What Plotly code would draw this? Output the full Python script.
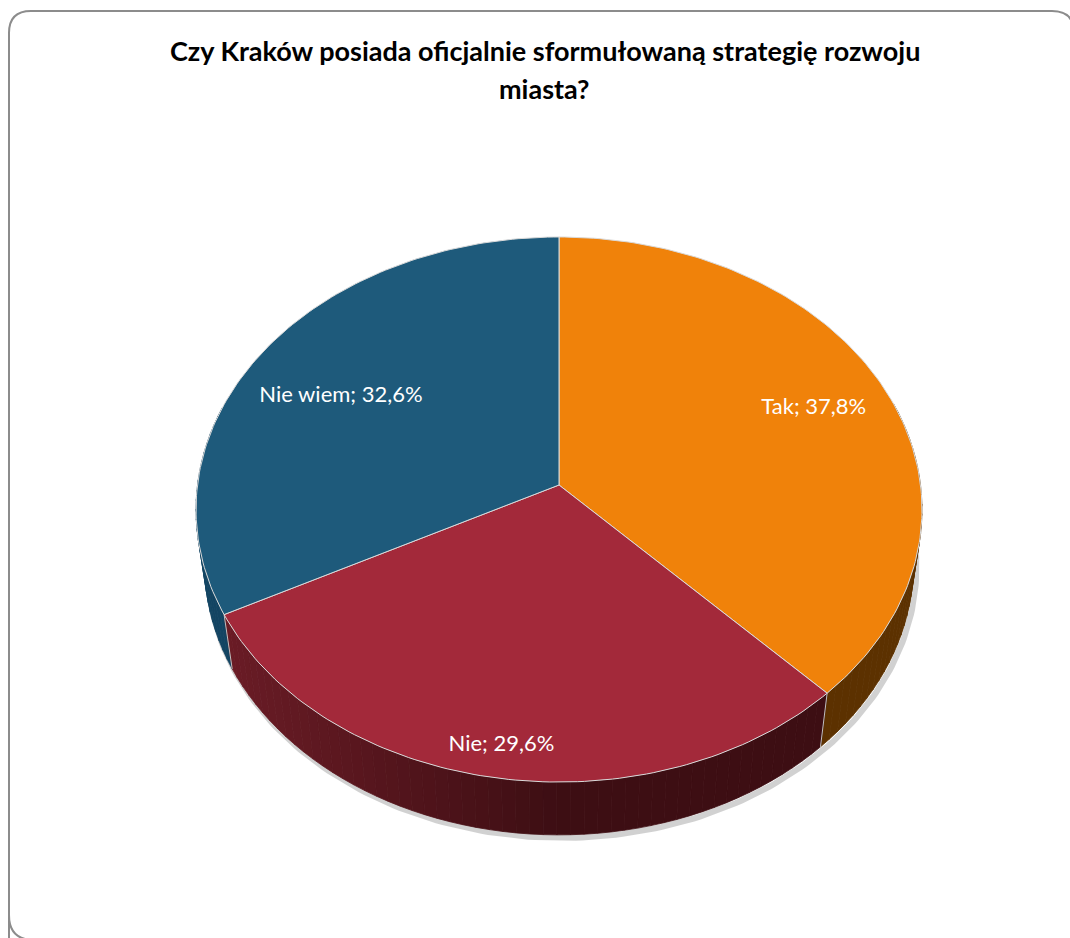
"""3D pie chart: Czy Kraków posiada oficjalnie sformułowaną strategię rozwoju miasta?"""
import numpy as np
import plotly.graph_objects as go

# data
labels = ["Tak", "Nie", "Nie wiem"]
values = [37.8, 29.6, 32.6]

# styling
TOP_COLORS = ["#F0820A", "#A3293A", "#1E5A7B"]
SIDE_COLORS = [("#603400", "#5C3100"), ("#6E1D27", "#3D0E13"), ("#134563", "#0E3550")]
LABEL_R = [0.78, 0.9, 0.73]
LABEL_POS = ["middle center", "middle center", "bottom center"]
FONT = "Lato"

W, H_PX = 1070, 938
CX, CY, R = 559.0, 485.0, 361.5
ALPHA = np.radians(48.4)
SA, CA = np.sin(ALPHA), np.cos(ALPHA)
DIST = 7.38
DEPTH = 0.235


def proj(x, y, z):
    v = y * SA + z * CA
    w = DIST + y * CA - z * SA
    return CX + R * x * DIST / w, CY - R * v * DIST / w


def rim(t0, t1, z, r=1.0, step=1.0):
    n = max(int(abs(t1 - t0) / step), 2)
    t = np.radians(np.linspace(t0, t1, n + 1))
    return proj(r * np.sin(t), r * np.cos(t), z)


def mix(c1, c2, f):
    a = [int(c1[i:i + 2], 16) for i in (1, 3, 5)]
    b = [int(c2[i:i + 2], 16) for i in (1, 3, 5)]
    return "#" + "".join(f"{int(round(p + (q - p) * f)):02x}" for p, q in zip(a, b))


total = sum(values)
bounds = np.concatenate([[0], np.cumsum(values) / total * 360])

fig = go.Figure()

# soft shadow under the rim
sx, sy = rim(60, 300, -DEPTH)
fig.add_scatter(x=sx + 3, y=sy + 3, mode="lines", line=dict(color="rgba(0,0,0,0.18)", width=6),
                hoverinfo="skip", showlegend=False)

# side walls, split into thin strips for shading, back to front
strips = []
for i in range(len(values)):
    a, b = bounds[i], bounds[i + 1]
    n = max(int((b - a) / 2), 1)
    edges = np.linspace(a, b, n + 1)
    for t0, t1 in zip(edges[:-1], edges[1:]):
        tm = np.radians((t0 + t1) / 2)
        if np.cos(tm) > 0.3:
            continue
        strips.append((np.cos(tm), i, t0, t1))
strips.sort(key=lambda s: -s[0])
for _, i, t0, t1 in strips:
    tx, ty = rim(t0, t1, 0, step=0.5)
    bx, by = rim(t1, t0, -DEPTH, step=0.5)
    xs = np.concatenate([tx, bx, tx[:1]])
    ys = np.concatenate([ty, by, ty[:1]])
    f = float(np.clip((xs.mean() - 200) / 360, 0, 1))
    col = mix(SIDE_COLORS[i][0], SIDE_COLORS[i][1], f)
    fig.add_scatter(x=xs, y=ys, mode="lines", fill="toself", fillcolor=col,
                    line=dict(color=col, width=0.8), hoverinfo="skip", showlegend=False)

# seams on the side wall at slice boundaries
for t in bounds[1:-1]:
    tr = np.radians(t)
    if np.cos(tr) < 0:
        x0, y0 = proj(np.sin(tr), np.cos(tr), 0)
        x1, y1 = proj(np.sin(tr), np.cos(tr), -DEPTH)
        fig.add_scatter(x=[x0, x1], y=[y0, y1], mode="lines", line=dict(color="#BFBFBF", width=1),
                        hoverinfo="skip", showlegend=False)

# top faces
for i, lab in enumerate(labels):
    ax, ay = rim(bounds[i], bounds[i + 1], 0)
    xs = np.concatenate([[CX], ax, [CX]])
    ys = np.concatenate([[CY], ay, [CY]])
    fig.add_scatter(x=xs, y=ys, mode="lines", fill="toself", fillcolor=TOP_COLORS[i],
                    line=dict(color="#DADADA", width=1), name=lab,
                    hoverinfo="skip", showlegend=False)

# data labels
lx, ly, txt = [], [], []
for i, lab in enumerate(labels):
    tm = np.radians((bounds[i] + bounds[i + 1]) / 2)
    x, y = proj(LABEL_R[i] * np.sin(tm), LABEL_R[i] * np.cos(tm), 0)
    lx.append(x)
    ly.append(y)
    txt.append(f"{lab}; {values[i]:.1f}%".replace(".", ","))
fig.add_scatter(x=lx, y=ly, mode="text", text=txt, textposition=LABEL_POS,
                textfont=dict(family=FONT, size=22, color="white"),
                hoverinfo="skip", showlegend=False)

# title
fig.add_annotation(x=545, y=50, text="<b>Czy Kraków posiada oficjalnie sformułowaną strategię rozwoju</b>",
                   showarrow=False, font=dict(family=FONT, size=27, color="black"))
fig.add_annotation(x=544, y=88, text="<b>miasta?</b>",
                   showarrow=False, font=dict(family=FONT, size=27, color="black"))

# rounded chart frame
fig.add_shape(type="path", xref="x", yref="y",
              path="M 9,960 L 9,33 Q 9,11 31,11 L 1052,11 Q 1074,11 1074,33 L 1074,960",
              line=dict(color="#8C8C8C", width=2))
fig.add_shape(type="path", xref="x", yref="y",
              path="M 9,915 Q 9,940 34,940", line=dict(color="#8C8C8C", width=2))

fig.update_xaxes(range=[0, W], visible=False, fixedrange=True)
fig.update_yaxes(range=[H_PX, 0], visible=False, fixedrange=True)
fig.update_layout(width=W, height=H_PX, margin=dict(l=0, r=0, t=0, b=0),
                  paper_bgcolor="white", plot_bgcolor="white", showlegend=False)

fig.write_html("out.html", config={"displayModeBar": False},
               post_script="document.body.style.margin='0';document.body.style.overflow='hidden';")
